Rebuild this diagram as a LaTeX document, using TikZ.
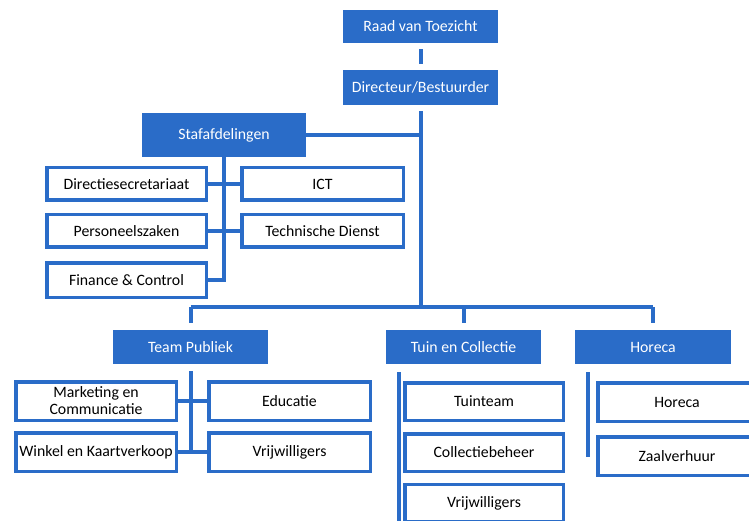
\documentclass[tikz,border=0pt]{standalone}
\usepackage{fontspec}
\setmainfont{Carlito}
\definecolor{orgblue}{RGB}{42,108,200}
\definecolor{white}{RGB}{255,255,255}
\begin{document}
\begin{tikzpicture}[x=1pt,y=-1pt,
  head/.style={fill=orgblue,text=white,inner sep=0pt,font=\fontsize{15.8}{17}\selectfont},
  child/.style={draw=orgblue,fill=white,line width=3.5pt,inner sep=0pt,text=black,
    font=\fontsize{15.8}{17}\selectfont,align=center},
  conn/.style={draw=orgblue,line width=4pt}]
\useasboundingbox (0,0) rectangle (749,521);
\clip (0,0) rectangle (749,521);
\fill[white] (0,0) rectangle (749,521);
% headers
\node[head,minimum width=155pt,minimum height=33pt] (raad) at (420.5,26.5) {Raad van Toezicht};
\node[head,minimum width=155pt,minimum height=35pt] (dir) at (420.5,87.5) {Directeur/Bestuurder};
\node[head,minimum width=164pt,minimum height=44pt] (staf) at (224,135) {Stafafdelingen};
\node[head,minimum width=155pt,minimum height=34pt] (tp) at (190.5,347) {Team Publiek};
\node[head,minimum width=155pt,minimum height=34pt] (tc) at (463.5,347) {Tuin en Collectie};
\node[head,minimum width=156pt,minimum height=34pt] (hh) at (653,347) {Horeca};
% staff children
\node[child,minimum width=159.5pt,minimum height=32.5pt] (dsec) at (126.5,184) {Directiesecretariaat};
\node[child,minimum width=161.5pt,minimum height=32.5pt] (ict) at (322.5,184) {ICT};
\node[child,minimum width=159.5pt,minimum height=32.5pt] (pz) at (126.5,231) {Personeelszaken};
\node[child,minimum width=161.5pt,minimum height=32.5pt] (td) at (322.5,231) {Technische Dienst};
\node[child,minimum width=159.5pt,minimum height=34.5pt] (fc) at (126.5,280) {Finance \& Control};
% team publiek children
\node[child,minimum width=160.5pt,minimum height=38.5pt] (mc) at (96,401) {Marketing en\\Communicatie};
\node[child,minimum width=161.5pt,minimum height=38.5pt] (edu) at (289.5,401) {Educatie};
\node[child,minimum width=160.5pt,minimum height=38.5pt] (wk) at (96,452) {Winkel en Kaartverkoop};
\node[child,minimum width=161.5pt,minimum height=38.5pt] (vw1) at (289.5,452) {Vrijwilligers};
% tuin children
\node[child,minimum width=158.5pt,minimum height=37.5pt] (tt) at (484,401.5) {Tuinteam};
\node[child,minimum width=158.5pt,minimum height=37.5pt] (cb) at (484,452.5) {Collectiebeheer};
\node[child,minimum width=158.5pt,minimum height=37.5pt] (vw2) at (484,503) {Vrijwilligers};
% horeca children
\node[child,minimum width=158.5pt,minimum height=38.5pt] (hor) at (677,402) {Horeca};
\node[child,minimum width=158.5pt,minimum height=38.5pt] (zv) at (677,456) {Zaalverhuur};
% connector coordinates
\coordinate (bus) at (0,307);
\coordinate (tcTop) at (399,372);
\coordinate (tcBot) at (399,530);
\coordinate (hhTop) at (588,372);
\coordinate (hhBot) at (588,457);
% connectors
\draw[conn] ([yshift=-6pt]raad.south) -- ([yshift=6pt]dir.north);
\draw[conn] ([yshift=-6pt]dir.south) -- (dir.south |- bus);
\draw[conn] (staf.east) -- (staf.east -| dir.south);
\draw[conn] (tp.north |- bus) -- (hh.north |- bus);
\draw[conn] (tp.north |- bus) -- ([yshift=7pt]tp.north);
\draw[conn] (tc.north |- bus) -- ([yshift=7pt]tc.north);
\draw[conn] (hh.north |- bus) -- ([yshift=7pt]hh.north);
\draw[conn] (staf.south) -- (staf.south |- fc.east) -- (fc.east);
\draw[conn] (dsec.east) -- (ict.west);
\draw[conn] (pz.east) -- (td.west);
\draw[conn] ([yshift=-7pt]tp.south) -- (tp.south |- wk.east);
\draw[conn] (mc.east) -- (edu.west);
\draw[conn] (wk.east) -- (vw1.west);
\draw[conn] (tcTop) -- (tcBot);
\draw[conn] (hhTop) -- (hhBot);
\end{tikzpicture}
\end{document}
